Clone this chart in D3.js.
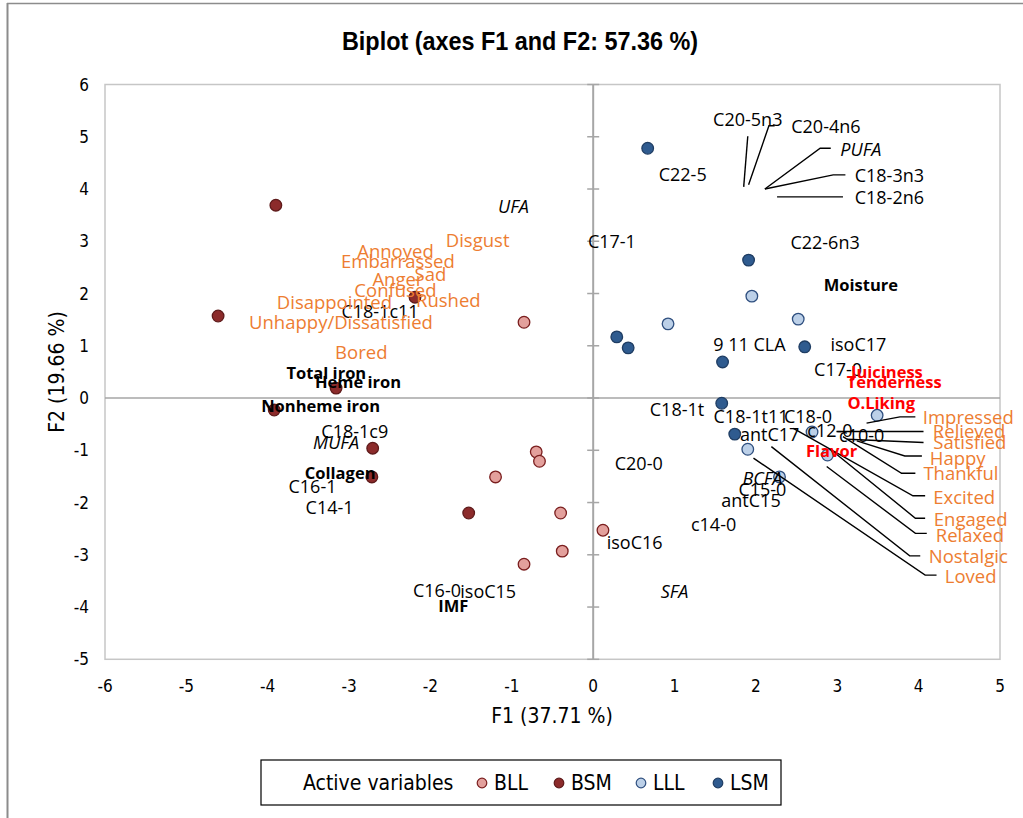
<!DOCTYPE html>
<html><head><meta charset="utf-8">
<script src="https://cdn.jsdelivr.net/npm/d3@7"></script>
<style>body{margin:0;background:#fff}svg{display:block}</style>
</head><body>
<svg id="chart" width="1023" height="818"></svg>
<script>
// ---------- data ----------
const xTicks = [-6,-5,-4,-3,-2,-1,0,1,2,3,4,5];
const yTicks = [-5,-4,-3,-2,-1,0,1,2,3,4,5,6];
const groups = ["BLL","BSM","LLL","LSM"];
const bllX = [-0.85,-0.70,-0.66,-1.20,-0.40,0.12,-0.38,-0.85];
const bllY = [1.45,-1.03,-1.21,-1.51,-2.20,-2.53,-2.93,-3.18];
const bsmX = [-3.90,-4.61,-2.19,-3.16,-3.92,-2.71,-2.72,-1.53];
const bsmY = [3.69,1.57,1.93,0.19,-0.23,-0.96,-1.51,-2.20];
const lllX = [1.95,0.92,2.52,3.49,2.69,1.90,2.29,2.88];
const lllY = [1.95,1.42,1.51,-0.33,-0.65,-0.98,-1.51,-1.09];
const lsmX = [0.67,1.91,0.29,0.43,1.59,2.60,1.58,1.74];
const lsmY = [4.78,2.64,1.17,0.96,0.69,0.98,-0.10,-0.69];

// variable labels: [text, x, y]
const fattyLabels = [
  ["C20-5n3",1.90,5.32],["C20-4n6",2.86,5.19],["C18-3n3",3.64,4.25],["C18-2n6",3.64,3.83],
  ["C22-5",1.10,4.27],["C17-1",0.23,3.00],["C22-6n3",2.85,2.97],["9 11 CLA",1.92,1.03],
  ["isoC17",3.26,1.03],["C17-0",3.01,0.54],["C18-1c11",-2.62,1.65],["C18-1t",1.03,-0.23],
  ["C18-1t11",1.94,-0.36],["C18-0",2.64,-0.36],["c12-0",2.91,-0.63],["c10-0",3.30,-0.73],
  ["antC17",2.17,-0.71],["C20-0",0.56,-1.26],["C15-0",2.08,-1.76],["antC15",1.94,-1.97],
  ["c14-0",1.48,-2.43],["isoC16",0.51,-2.76],["C18-1c9",-2.93,-0.65],["C16-1",-3.45,-1.70],
  ["C14-1",-3.24,-2.09],["C16-0",-1.92,-3.69],["isoC15",-1.29,-3.71]
];
const groupLabels = [["PUFA",3.29,4.75],["UFA",-0.98,3.66],["BCFA",2.08,-1.55],["SFA",1.00,-3.70],["MUFA",-3.16,-0.86]];
const qualityLabels = [["Moisture",3.29,2.16],["Total iron",-3.28,0.48],["Heme iron",-2.89,0.31],
  ["Nonheme iron",-3.35,-0.15],["Collagen",-3.11,-1.44],["IMF",-1.72,-3.98]];
const sensoryLabels = [["Juiciness",3.61,0.50],["Tenderness",3.70,0.30],["O.Liking",3.54,-0.10],["Flavor",2.93,-1.01]];
const emotionLabels = [
  ["Disgust",-1.42,3.02],["Annoyed",-2.43,2.81],["Embarrassed",-2.40,2.62],["Sad",-2.00,2.37],
  ["Anger",-2.40,2.26],["Confused",-2.43,2.05],["Rushed",-1.78,1.86],["Disappointed",-3.18,1.82],
  ["Unhappy/Dissatisfied",-3.10,1.44],["Bored",-2.85,0.88],
  ["Impressed",4.61,-0.38],["Relieved",4.62,-0.65],["Satisfied",4.63,-0.86],["Happy",4.48,-1.15],
  ["Thankful",4.52,-1.45],["Excited",4.56,-1.90],["Engaged",4.64,-2.32],["Relaxed",4.63,-2.64],
  ["Nostalgic",4.61,-3.04],["Loved",4.64,-3.41]
];
// leader lines (data coordinates)
const leaderLines = [
  [[1.85,4.04],[1.90,5.01]],
  [[1.91,4.08],[2.16,5.21],[2.23,5.21]],
  [[2.11,4.00],[2.79,4.78],[2.92,4.78]],
  [[2.11,4.00],[2.95,4.27],[3.10,4.27]],
  [[2.26,3.85],[3.07,3.85]],
  [[3.36,-0.48],[3.77,-0.36],[3.96,-0.36]],
  [[2.99,-0.64],[4.06,-0.64]],
  [[3.12,-0.79],[4.06,-0.85]],
  [[3.24,-0.82],[3.83,-1.11],[4.04,-1.11]],
  [[3.07,-0.74],[3.79,-1.44],[3.96,-1.44]],
  [[2.46,-0.58],[3.93,-1.87],[4.08,-1.87]],
  [[2.93,-1.00],[3.96,-2.30],[4.08,-2.30]],
  [[2.87,-1.31],[3.96,-2.59],[4.10,-2.59]],
  [[2.19,-0.93],[3.89,-3.02],[4.02,-3.02]],
  [[1.97,-1.15],[4.08,-3.39],[4.22,-3.39]]
];

// ---------- drawing ----------
const svg = d3.select("#chart");
const x = d3.scaleLinear().domain([-6,5]).range([105,1000]);
const y = d3.scaleLinear().domain([-5,6]).range([659.3,84.5]);
const narrow = "'Liberation Sans Narrow','Arial Narrow','DejaVu Sans Condensed',sans-serif";
const labelFont = "'Open Sans','Noto Sans',sans-serif";
const styles = {
  BLL:{fill:"#E3A09C",stroke:"#7A1E1E"},
  BSM:{fill:"#8C2B2B",stroke:"#5E1A1A"},
  LLL:{fill:"#BCD0E8",stroke:"#2F4F7F"},
  LSM:{fill:"#2F5B8F",stroke:"#1F3D63"}
};

// outer frame
svg.append("line").attr("x1",7).attr("x2",1023).attr("y1",3.5).attr("y2",3.5).attr("stroke","#8c8c8c").attr("stroke-width",1.5);
svg.append("line").attr("x1",7.5).attr("x2",7.5).attr("y1",3).attr("y2",818).attr("stroke","#8c8c8c").attr("stroke-width",2);

// title
svg.append("g").attr("transform","translate(520,50) scale(0.9,1)")
  .append("text").attr("x",0).attr("y",0).attr("text-anchor","middle")
  .attr("font-family","'Liberation Sans',Arial,sans-serif").attr("font-weight","bold").attr("font-size",26).attr("fill","#000")
  .text("Biplot (axes F1 and F2: 57.36 %)");

// plot box
svg.append("rect").attr("x",x(-6)).attr("y",y(6)).attr("width",x(5)-x(-6)).attr("height",y(-5)-y(6))
  .attr("fill","none").attr("stroke","#c6c6c6").attr("stroke-width",1.5);
// zero axes
svg.append("line").attr("x1",x(-6)).attr("x2",x(5)).attr("y1",y(0)).attr("y2",y(0)).attr("stroke","#a6a6a6").attr("stroke-width",1.5);
svg.append("line").attr("x1",x(0)).attr("x2",x(0)).attr("y1",y(6)).attr("y2",y(-5)).attr("stroke","#a6a6a6").attr("stroke-width",2);
svg.selectAll(".ytk").data(yTicks).join("line").attr("class","ytk")
  .attr("x1",x(0)-6).attr("x2",x(0)+6).attr("y1",d=>y(d)).attr("y2",d=>y(d))
  .attr("stroke","#a6a6a6").attr("stroke-width",1.5);

// tick labels
svg.selectAll(".xl").data(xTicks).join("text").attr("class","xl")
  .attr("x",d=>x(d)).attr("y",692).attr("text-anchor","middle")
  .attr("font-family",narrow).attr("font-size",17).attr("fill","#000").text(d=>d);
svg.selectAll(".yl").data(yTicks).join("text").attr("class","yl")
  .attr("x",89).attr("y",d=>y(d)+6).attr("text-anchor","end")
  .attr("font-family",narrow).attr("font-size",17).attr("fill","#000").text(d=>d);

// axis titles
svg.append("text").attr("x",552).attr("y",723).attr("text-anchor","middle")
  .attr("font-family",narrow).attr("font-size",21).attr("fill","#000").text("F1 (37.71 %)");
svg.append("text").attr("transform","translate(64,372) rotate(-90)").attr("text-anchor","middle")
  .attr("font-family",narrow).attr("font-size",21).attr("fill","#000").text("F2 (19.66 %)");

// points
const pointData = [];
[[bllX,bllY],[bsmX,bsmY],[lllX,lllY],[lsmX,lsmY]].forEach((p,i)=>{
  p[0].forEach((v,j)=>pointData.push({g:groups[i],x:v,y:p[1][j]}));
});
svg.selectAll(".pt").data(pointData).join("circle").attr("class","pt")
  .attr("cx",d=>x(d.x)).attr("cy",d=>y(d.y)).attr("r",5.8)
  .attr("fill",d=>styles[d.g].fill).attr("stroke",d=>styles[d.g].stroke).attr("stroke-width",1.3);

// leader lines
const lineGen = d3.line().x(d=>x(d[0])).y(d=>y(d[1]));
svg.selectAll(".ll").data(leaderLines).join("path").attr("class","ll")
  .attr("d",lineGen).attr("fill","none").attr("stroke","#000").attr("stroke-width",1.4);

// labels
function addLabels(data, opts){
  svg.append("g").selectAll("text").data(data).join("text")
    .attr("x",d=>x(d[1])).attr("y",d=>y(d[2])).attr("dy","0.35em").attr("text-anchor","middle")
    .attr("font-family",labelFont).attr("font-size",opts.size)
    .attr("font-weight",opts.weight||"normal").attr("font-style",opts.style||"normal")
    .attr("fill",opts.fill).text(d=>d[0]);
}
addLabels(fattyLabels,{size:18,fill:"#000"});
addLabels(groupLabels,{size:18,fill:"#000",style:"italic"});
addLabels(qualityLabels,{size:16.5,fill:"#000",weight:"bold"});
addLabels(emotionLabels,{size:18.5,fill:"#ED7D31"});
addLabels(sensoryLabels,{size:16.5,fill:"#FF0000",weight:"bold"});

// legend
const lg = svg.append("g");
lg.append("rect").attr("x",261).attr("y",760).attr("width",520).attr("height",45)
  .attr("fill","#fff").attr("stroke","#000").attr("stroke-width",1.2);
lg.append("text").attr("x",303).attr("y",790).attr("font-family",narrow).attr("font-size",21).attr("fill","#000").text("Active variables");
const legX = {BLL:482,BSM:559,LLL:641,LSM:718};
groups.forEach(g=>{
  lg.append("circle").attr("cx",legX[g]).attr("cy",783).attr("r",4.8)
    .attr("fill",styles[g].fill).attr("stroke",styles[g].stroke).attr("stroke-width",1.2);
  lg.append("text").attr("x",legX[g]+12).attr("y",790).attr("font-family",narrow).attr("font-size",21).attr("fill","#000").text(g);
});
</script>
</body></html>
